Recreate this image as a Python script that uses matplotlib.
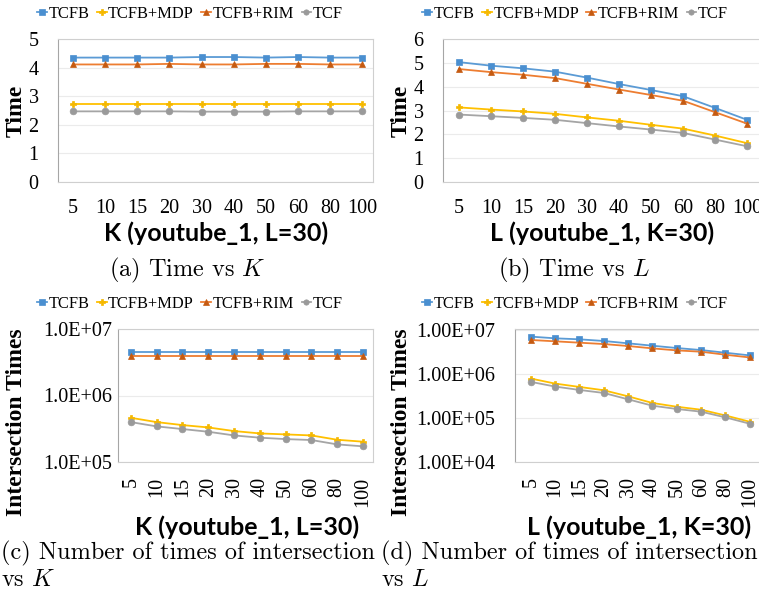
import numpy as np
import matplotlib.pyplot as plt
from matplotlib.ticker import FixedLocator, NullLocator

plt.rcParams['mathtext.fontset'] = 'cm'

# categories
k_vals = ['5', '10', '15', '20', '30', '40', '50', '60', '80', '100']
l_vals = ['5', '10', '15', '20', '30', '40', '50', '60', '80', '100']

# (a) time vs K
a_tcfb = [4.35, 4.35, 4.35, 4.35, 4.37, 4.37, 4.35, 4.37, 4.35, 4.35]
a_mdp = [2.72, 2.72, 2.72, 2.72, 2.72, 2.72, 2.72, 2.72, 2.72, 2.72]
a_rim = [4.11, 4.11, 4.11, 4.13, 4.11, 4.11, 4.13, 4.13, 4.11, 4.11]
a_tcf = [2.47, 2.47, 2.47, 2.47, 2.46, 2.46, 2.46, 2.47, 2.47, 2.47]

# (b) time vs L
b_tcfb = [5.03, 4.88, 4.77, 4.63, 4.38, 4.11, 3.86, 3.60, 3.11, 2.61]
b_mdp = [3.13, 3.04, 2.96, 2.86, 2.71, 2.57, 2.40, 2.24, 1.95, 1.63]
b_rim = [4.74, 4.61, 4.50, 4.36, 4.12, 3.88, 3.65, 3.41, 2.93, 2.45]
b_tcf = [2.83, 2.76, 2.69, 2.61, 2.47, 2.33, 2.20, 2.06, 1.78, 1.50]

# (c) intersection times vs K
c_tcfb = [4.47e6] * 10
c_mdp = [4.62e5, 3.98e5, 3.59e5, 3.31e5, 2.92e5, 2.69e5, 2.60e5, 2.51e5, 2.16e5, 2.02e5]
c_rim = [3.89e6] * 10
c_tcf = [3.98e5, 3.43e5, 3.13e5, 2.85e5, 2.51e5, 2.32e5, 2.21e5, 2.14e5, 1.84e5, 1.72e5]

# (d) intersection times vs L
d_tcfb = [7.05e6, 6.45e6, 6.12e6, 5.61e6, 4.96e6, 4.38e6, 3.88e6, 3.49e6, 3.03e6, 2.64e6]
d_mdp = [7.87e5, 6.04e5, 5.07e5, 4.26e5, 3.10e5, 2.19e5, 1.80e5, 1.54e5, 1.14e5, 8.2e4]
d_rim = [5.91e6, 5.51e6, 5.13e6, 4.78e6, 4.31e6, 3.81e6, 3.43e6, 3.20e6, 2.73e6, 2.37e6]
d_tcf = [6.61e5, 5.17e5, 4.33e5, 3.70e5, 2.65e5, 1.90e5, 1.60e5, 1.39e5, 1.03e5, 7.4e4]

names = ['TCFB', 'TCFB+MDP', 'TCFB+RIM', 'TCF']
colors = ['#5B9BD5', '#FFC000', '#ED7D31', '#A5A5A5']
marker_colors = ['#4A8FD0', '#F5B800', '#C55A11', '#9A9A9A']
markers = ['s', 'P', '^', 'o']

W, H = 759, 601
fig = plt.figure(figsize=(W / 100, H / 100), dpi=100)


def fx(px):
    return px / W


def fy(py):
    return 1 - py / H


def make_ax(left, right, top, bottom):
    return fig.add_axes([fx(left), fy(bottom), fx(right - left), (bottom - top) / H])


tick_font = dict(family='Liberation Serif', size=14.5)
leg_font = dict(family='Liberation Serif', size=11.8)
xl_font = dict(family='Lato', weight='bold', size=18)
yl_font = dict(family='Liberation Serif', weight='bold', size=17)
cap_font = dict(family='cmr10', size=17.5)


def draw(ax, series, labels, xlim, rotate=False, log=False, ypad=13, xpad=13):
    x = np.arange(len(labels))
    for s, name, c, mc, m in zip(series, names, colors, marker_colors, markers):
        ax.plot(x, s, color=c, marker=m, markersize=4.8, linewidth=1.3,
                markerfacecolor=mc, markeredgecolor=mc, markeredgewidth=0.5, label=name)
    ax.set_xlim(*xlim)
    ax.set_xticks(x)
    ax.set_xticklabels(labels, fontdict=tick_font, rotation=90 if rotate else 0)
    for sp in ax.spines.values():
        sp.set_color('#CFCFCF')
        sp.set_linewidth(0.8)
    ax.spines['left'].set_color('#A6A6A6')
    ax.tick_params(length=0)
    ax.tick_params(axis='y', pad=ypad)
    ax.tick_params(axis='x', pad=xpad)
    ax.grid(axis='y', color='#EBEBEB', linewidth=0.8)
    ax.set_axisbelow(True)
    if log:
        ax.set_yscale('log')
        ax.yaxis.set_minor_locator(NullLocator())


def legend(ax, cx, cy):
    ax.legend(loc='center', bbox_to_anchor=(fx(cx), fy(cy)), bbox_transform=fig.transFigure,
              ncol=4, frameon=False, prop=leg_font, handlelength=0.6, markerscale=0.8,
              handletextpad=0.1, columnspacing=0.45, borderpad=0, borderaxespad=0)


def ylabel(ax, text, right, cy):
    ax.set_ylabel(text, fontdict=yl_font)
    ax.yaxis.set_label_coords(fx(right), fy(cy), transform=fig.transFigure)


# (a)
ax = make_ax(58, 373, 39, 182)
draw(ax, [a_tcfb, a_mdp, a_rim, a_tcf], k_vals, (-0.47, 9.34), ypad=14, xpad=12)
ax.set_ylim(0, 5)
ax.set_yticks(range(6))
ax.set_yticklabels([str(v) for v in range(6)], fontdict=tick_font)
ylabel(ax, 'Time', 27, 111)
legend(ax, 190, 14)
fig.text(fx(216), fy(233), 'K (youtube_1, L=30)', ha='center', va='center', **xl_font)
fig.text(fx(187), fy(270), '(a) Time vs $K$', ha='center', va='center', **cap_font)

# (b)
ax = make_ax(443, 763, 39, 182)
draw(ax, [b_tcfb, b_mdp, b_rim, b_tcf], l_vals, (-0.5, 9.5), ypad=14, xpad=12)
ax.set_ylim(0, 6)
ax.set_yticks(range(7))
ax.set_yticklabels([str(v) for v in range(7)], fontdict=tick_font)
ylabel(ax, 'Time', 412, 111)
legend(ax, 575, 14)
fig.text(fx(602), fy(233), 'L (youtube_1, K=30)', ha='center', va='center', **xl_font)
fig.text(fx(574), fy(270), '(b) Time vs $L$', ha='center', va='center', **cap_font)

# (c)
ax = make_ax(118, 373, 329, 462)
draw(ax, [c_tcfb, c_mdp, c_rim, c_tcf], k_vals, (-0.5, 9.39), rotate=True, log=True,
     ypad=4, xpad=11)
ax.set_ylim(1e5, 1e7)
ax.yaxis.set_major_locator(FixedLocator([1e5, 1e6, 1e7]))
ax.set_yticklabels(['1.0E+05', '1.0E+06', '1.0E+07'], fontdict=tick_font)
ylabel(ax, 'Intersection Times', 27, 422)
legend(ax, 190, 304)
fig.text(fx(247), fy(527), 'K (youtube_1, L=30)', ha='center', va='center', **xl_font)
fig.text(fx(1), fy(553), '(c) Number of times of intersection', ha='left', va='center', **cap_font)
fig.text(fx(1), fy(580), 'vs $K$', ha='left', va='center', **cap_font)

# (d)
ax = make_ax(515, 762, 329, 462)
draw(ax, [d_tcfb, d_mdp, d_rim, d_tcf], l_vals, (-0.65, 9.5), rotate=True, log=True,
     ypad=14, xpad=11)
ax.set_ylim(1e4, 1.05e7)
ax.yaxis.set_major_locator(FixedLocator([1e4, 1e5, 1e6, 1e7]))
ax.set_yticklabels(['1.00E+04', '1.00E+05', '1.00E+06', '1.00E+07'], fontdict=tick_font)
ylabel(ax, 'Intersection Times', 412, 422)
legend(ax, 575, 304)
fig.text(fx(639), fy(527), 'L (youtube_1, K=30)', ha='center', va='center', **xl_font)
fig.text(fx(381), fy(553), '(d) Number of times of intersection', ha='left', va='center', **cap_font)
fig.text(fx(381), fy(580), 'vs $L$', ha='left', va='center', **cap_font)

fig.savefig('out.png', dpi=100)
